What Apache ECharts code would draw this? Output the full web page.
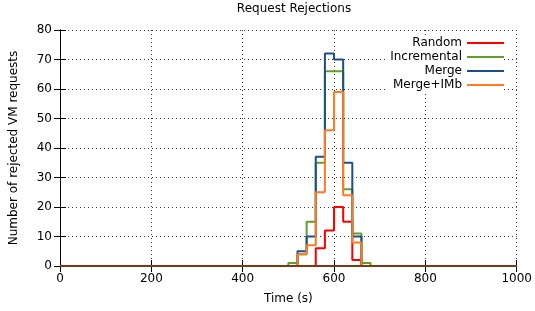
<!DOCTYPE html>
<html>
<head>
<meta charset="utf-8">
<script src="https://cdn.jsdelivr.net/npm/echarts@6/dist/echarts.min.js"></script>
<style>
  html, body { margin: 0; padding: 0; background: #fff; }
  #chart { width: 535px; height: 311px; }
</style>
</head>
<body>
<div id="chart"></div>
<script>
// bin start times (s), 20 s wide
const binStarts = [500, 520, 540, 560, 580, 600, 620, 640, 660, 680];
const random      = [0, 0, 0, 6, 12, 20, 15, 2, 0, 0];
const incremental = [1, 4, 15, 35, 66, 66, 26, 11, 1, 0];
const merge       = [0, 5, 10, 37, 72, 70, 35, 10, 0, 0];
const mergeImb    = [0, 4, 7, 25, 46, 59, 24, 8, 0, 0];
const xTicks = [0, 200, 400, 600, 800, 1000];
const yTicks = [0, 10, 20, 30, 40, 50, 60, 70, 80];

const FONT = 'DejaVu Sans';

// turn bins into step points, with zero runs out to the axis ends
function toSteps(vals) {
    const pts = [[0, 0]];
    binStarts.forEach((t, i) => pts.push([t, vals[i]]));
    pts.push([binStarts[binStarts.length - 1] + 20, 0]);
    pts.push([1000, 0]);
    return pts;
}

const chart = echarts.init(document.getElementById('chart'));

function stepSeries(name, vals, color, extra) {
    return Object.assign({
        name: name,
        type: 'line',
        step: 'end',
        data: toSteps(vals),
        showSymbol: false,
        symbol: 'none',
        animation: false,
        lineStyle: { color: color, width: 2 },
        itemStyle: { color: color }
    }, extra || {});
}

const gridLine = { show: true, lineStyle: { color: '#333', type: [1, 3], width: 1 } };
const frameLine = { show: true, lineStyle: { color: '#000', width: 1 } };

chart.setOption({
    animation: false,
    backgroundColor: '#fff',
    title: {
        text: 'Request Rejections',
        left: 289,
        top: -2,
        textAlign: 'center',
        textStyle: { fontFamily: FONT, fontSize: 12, fontWeight: 'normal', color: '#000' }
    },
    grid: { left: 60, right: 16, top: 30, bottom: 45 },
    legend: {
        orient: 'vertical',
        right: 31,
        top: 37,
        align: 'right',
        itemWidth: 37,
        itemHeight: 2,
        itemGap: 2,
        icon: 'rect',
        backgroundColor: '#fff',
        padding: [0, 0, 2, 4],
        textStyle: { fontFamily: FONT, fontSize: 12, color: '#000', lineHeight: 12 },
        data: ['Random', 'Incremental', 'Merge', 'Merge+IMb']
    },
    xAxis: [{
        type: 'value',
        min: 0, max: 1000, interval: 200,
        name: 'Time (s)',
        nameLocation: 'middle',
        nameGap: 27,
        nameTextStyle: { fontFamily: FONT, fontSize: 12, color: '#000' },
        axisLine: frameLine,
        axisTick: { show: true, inside: true, length: 6, lineStyle: { color: '#000' } },
        axisLabel: { fontFamily: FONT, fontSize: 12, color: '#000', margin: 7,
            customValues: xTicks, formatter: v => String(v) },
        splitLine: gridLine
    }, {
        type: 'value',
        position: 'top',
        min: 0, max: 1000, interval: 200,
        axisLine: frameLine,
        axisTick: { show: true, inside: true, length: 6, lineStyle: { color: '#000' } },
        axisLabel: { show: false },
        splitLine: { show: false }
    }],
    yAxis: [{
        type: 'value',
        min: 0, max: 80, interval: 10,
        name: 'Number of rejected VM requests',
        nameLocation: 'middle',
        nameGap: 40,
        nameTextStyle: { fontFamily: FONT, fontSize: 12, color: '#000' },
        axisLine: frameLine,
        axisTick: { show: true, inside: true, length: 6, lineStyle: { color: '#000' } },
        axisLabel: { fontFamily: FONT, fontSize: 12, color: '#000', margin: 8,
            customValues: yTicks },
        splitLine: gridLine
    }, {
        type: 'value',
        position: 'right',
        min: 0, max: 80, interval: 10,
        axisLine: frameLine,
        axisTick: { show: true, inside: true, length: 6, lineStyle: { color: '#000' } },
        axisLabel: { show: false },
        splitLine: { show: false }
    }],
    series: [
        stepSeries('Random', random, '#ff0000'),
        stepSeries('Incremental', incremental, '#5f9f2a'),
        stepSeries('Merge', merge, '#1b4f8c'),
        stepSeries('Merge+IMb', mergeImb, '#ff7a22', {
            // zero level where every series overlaps the frame shows brownish
            markLine: {
                silent: true,
                symbol: 'none',
                label: { show: false },
                lineStyle: { color: '#7a3a14', type: 'solid', width: 2 },
                data: [{ yAxis: 0 }]
            }
        })
    ]
});
</script>
</body>
</html>
